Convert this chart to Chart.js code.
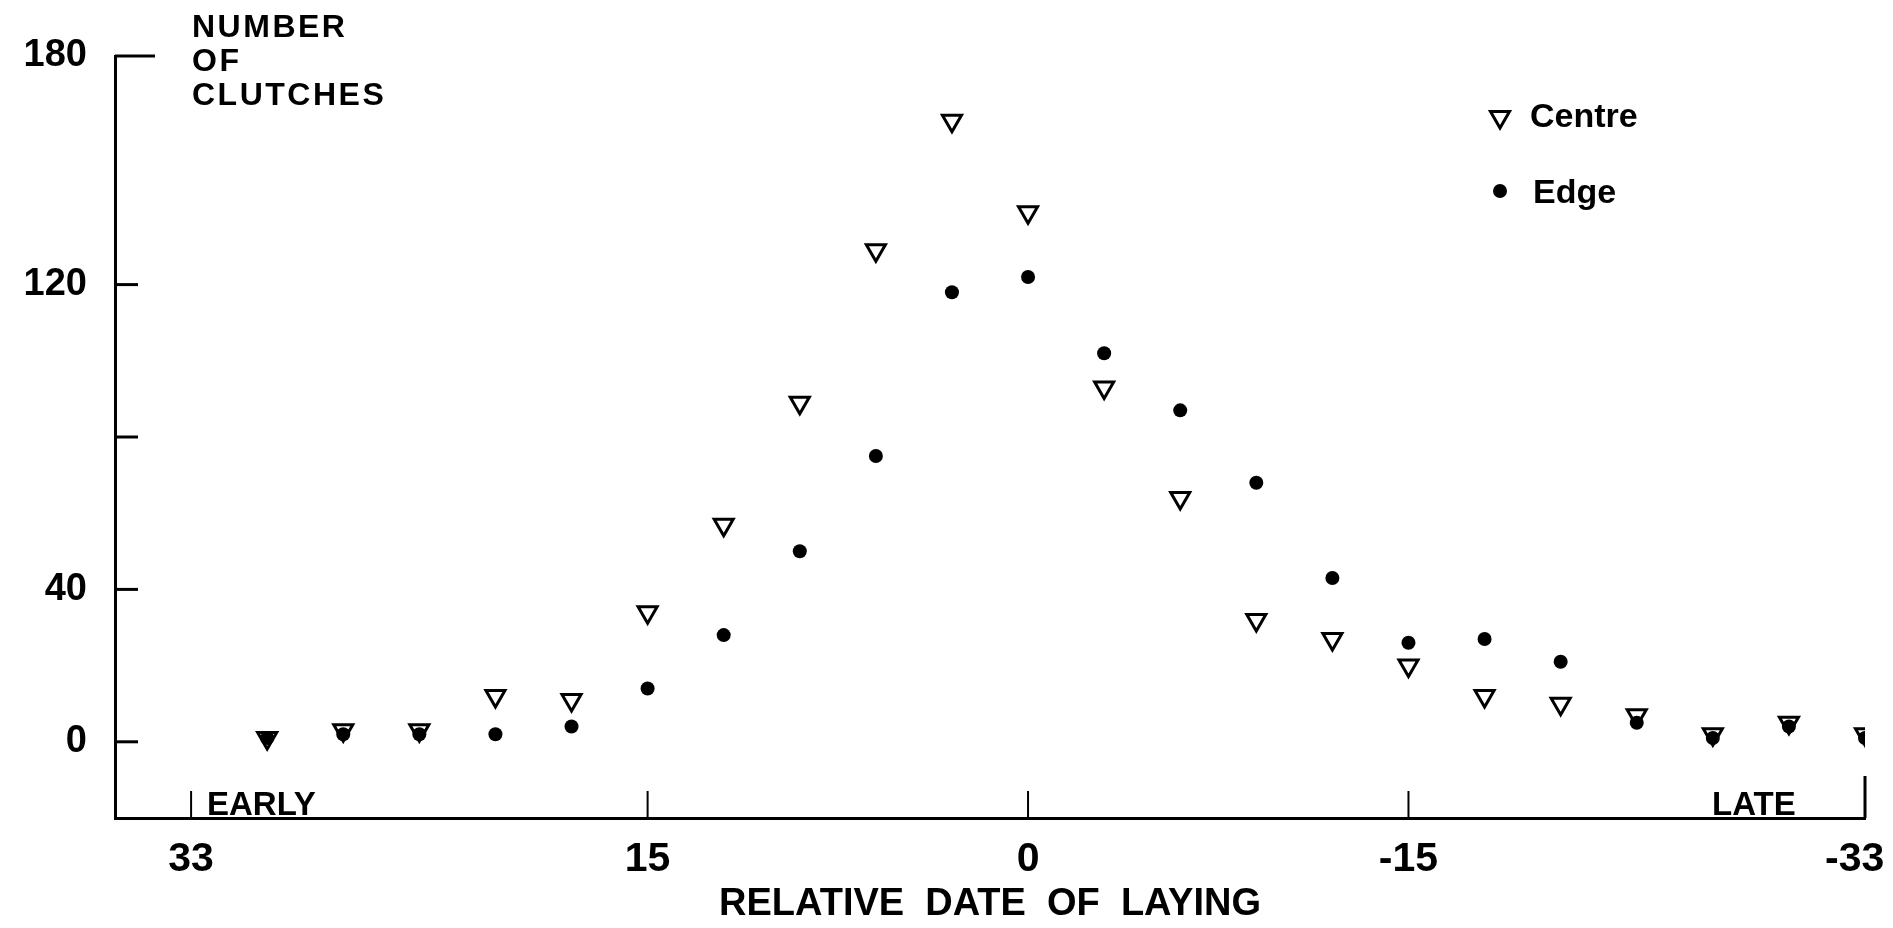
<!DOCTYPE html>
<html>
<head>
<meta charset="utf-8">
<title>Number of clutches by relative date of laying</title>
<script src="https://cdn.jsdelivr.net/npm/chart.js@4.4.1/dist/chart.umd.min.js"></script>
<style>
  html, body { margin: 0; padding: 0; background: #fff; }
  #wrap { width: 1893px; height: 928px; }
</style>
</head>
<body>
<div id="wrap"><canvas id="myChart" width="1893" height="928"></canvas></div>
<script>
// relative date of laying (days), early -> late
const days = [30, 27, 24, 21, 18, 15, 12, 9, 6, 3, 0, -3, -6, -9, -12, -15, -18, -21, -24, -27, -30, -33];
// number of clutches
const centre = [1, 3, 3, 12, 11, 34, 57, 89, 129, 163, 139, 93, 64, 32, 27, 20, 12, 10, 7, 2, 5, 2];
const edge = [1, 2, 2, 2, 4, 14, 28, 50, 75, 118, 122, 102, 87, 68, 43, 26, 27, 21, 5, 1, 4, 1];

const xTicks = [33, 15, 0, -15, -33];
const yTicks = [0, 40, 80, 120, 180];
const yTickLabels = ['0', '40', '', '120', '180'];

const FONT = "'Liberation Sans', Arial, sans-serif";

function toPoints(vals) {
  return days.map((d, i) => ({ x: d, y: vals[i] }));
}

// inward tick marks, axis side labels, hand-placed key
const extras = {
  id: 'extras',
  afterDraw(chart) {
    const ctx = chart.ctx;
    const xs = chart.scales.x, ys = chart.scales.y;
    const area = chart.chartArea;
    ctx.save();
    ctx.strokeStyle = '#000';
    ctx.lineWidth = 3;
    ctx.lineCap = 'butt';

    // y ticks point into the plot
    yTicks.forEach(v => {
      const py = ys.getPixelForValue(v);
      const len = v === 180 ? 40 : 23;
      ctx.beginPath();
      ctx.moveTo(area.left, py);
      ctx.lineTo(area.left + len, py);
      ctx.stroke();
    });
    // x ticks point up
    xTicks.forEach(v => {
      const px = xs.getPixelForValue(v);
      const len = v === -33 ? 42 : 27;
      ctx.lineWidth = v === -33 ? 3 : 2;
      ctx.beginPath();
      ctx.moveTo(px, area.bottom);
      ctx.lineTo(px, area.bottom - len);
      ctx.stroke();
    });

    ctx.fillStyle = '#000';
    ctx.textBaseline = 'alphabetic';
    ctx.textAlign = 'left';

    // y axis caption
    ctx.font = 'bold 32px ' + FONT;
    ctx.letterSpacing = '2.5px';
    ['NUMBER', 'OF', 'CLUTCHES'].forEach((t, i) => {
      ctx.fillText(t, 192, 37 + i * 34);
    });

    // early / late
    ctx.font = 'bold 33px ' + FONT;
    ctx.letterSpacing = '0px';
    ctx.fillText('EARLY', 207, 815);
    ctx.fillText('LATE', 1712, 815);

    // key
    const ds = chart.data.datasets;
    ctx.lineWidth = 3;
    ctx.beginPath();
    const tx = 1500, ty = 117, r = 11;
    ctx.moveTo(tx - r * 0.866, ty - r / 2);
    ctx.lineTo(tx + r * 0.866, ty - r / 2);
    ctx.lineTo(tx, ty + r);
    ctx.closePath();
    ctx.strokeStyle = ds[0].borderColor;
    ctx.stroke();
    ctx.beginPath();
    ctx.arc(1500, 191, 7, 0, Math.PI * 2);
    ctx.fillStyle = ds[1].backgroundColor;
    ctx.fill();

    ctx.fillStyle = '#000';
    ctx.font = 'bold 34px ' + FONT;
    ctx.fillText(ds[0].label, 1530, 127);
    ctx.fillText(ds[1].label, 1533, 203);
    ctx.restore();
  }
};

new Chart(document.getElementById('myChart'), {
  type: 'scatter',
  data: {
    datasets: [{
      label: 'Centre',
      data: toPoints(centre),
      pointStyle: 'triangle',
      rotation: 180,
      pointRadius: 11,
      pointHoverRadius: 11,
      borderWidth: 3,
      borderColor: '#000',
      backgroundColor: 'rgba(0,0,0,0)'
    }, {
      label: 'Edge',
      data: toPoints(edge),
      pointStyle: 'circle',
      pointRadius: 7,
      pointHoverRadius: 7,
      borderWidth: 0,
      borderColor: '#000',
      backgroundColor: '#000'
    }]
  },
  options: {
    responsive: false,
    animation: false,
    layout: { padding: { left: 0, right: 28, top: 56, bottom: 0 } },
    plugins: {
      legend: { display: false },
      tooltip: { enabled: false }
    },
    scales: {
      x: {
        type: 'linear',
        min: -33,
        max: 36,
        reverse: true,
        afterFit: s => { s.height = 110; s.paddingLeft = 0; s.paddingRight = 0; },
        afterBuildTicks: s => { s.ticks = xTicks.map(v => ({ value: v })); },
        grid: { display: true, drawOnChartArea: false, drawTicks: false },
        border: { display: true, color: '#000', width: 3 },
        ticks: {
          color: '#000',
          padding: 17,
          maxRotation: 0,
          font: { family: FONT, size: 41, weight: 'bold' },
          // last label sits at the canvas edge, pad it so it stays inside
          callback: v => v === -33 ? '-33\u2002' : String(v)
        },
        title: {
          display: true,
          text: 'RELATIVE  DATE  OF  LAYING',
          color: '#000',
          font: { family: FONT, size: 38, weight: 'bold' },
          padding: { top: 0, bottom: 1 }
        }
      },
      y: {
        min: -20,
        max: 180,
        afterFit: s => { s.width = 115; },
        afterBuildTicks: s => { s.ticks = yTicks.map(v => ({ value: v })); },
        grid: { display: true, drawOnChartArea: false, drawTicks: false },
        border: { display: true, color: '#000', width: 3 },
        ticks: {
          color: '#000',
          padding: 28,
          font: { family: FONT, size: 38, weight: 'bold' },
          callback: v => yTickLabels[yTicks.indexOf(v)]
        }
      }
    }
  },
  plugins: [extras]
});
</script>
</body>
</html>
